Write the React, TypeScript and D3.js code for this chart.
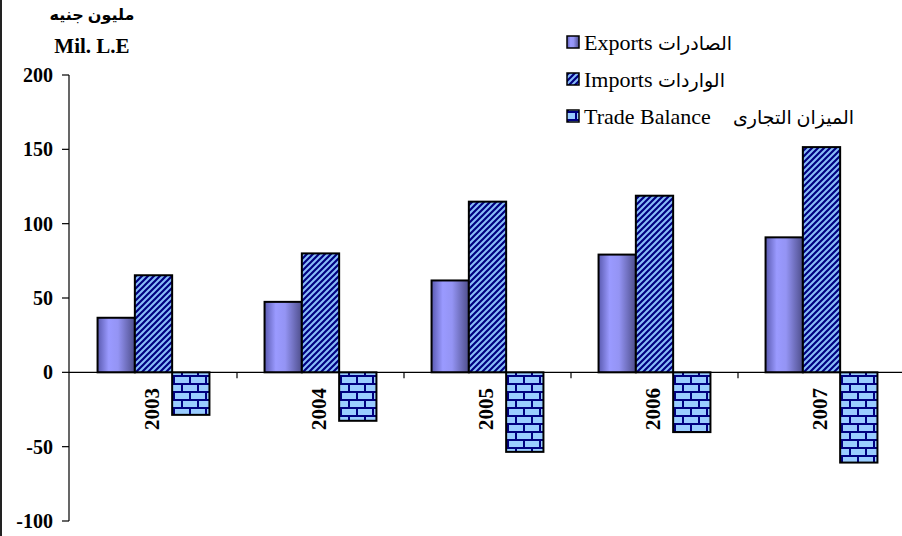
import React from 'react';
import * as d3 from 'd3';

const years = ['2003', '2004', '2005', '2006', '2007'];
const exportsVals = [36.7, 47.4, 61.8, 79.2, 90.8];
const importsVals = [65.3, 80.0, 114.8, 118.8, 151.5];
const balanceVals = [-28.6, -32.6, -53.5, -40.2, -60.7];
const seriesKeys = ['exports', 'imports', 'balance'];
const seriesEn = ['Exports ', 'Imports ', 'Trade Balance    '];
const seriesAr = ['الصادرات', 'الواردات', 'الميزان التجارى'];
const seriesFills = ['url(#gradExports)', 'url(#patImports)', 'url(#patBricks)'];
const yTicks = [-100, -50, 0, 50, 100, 150, 200];
const titleAr = 'مليون جنيه';
const titleEn = 'Mil. L.E';

const W = 902;
const H = 536;
const FONT = "'Liberation Serif', 'Times New Roman', 'DejaVu Sans', serif";

export default function App() {
  const x = d3.scaleBand<string>().domain(years).range([70, 905]).paddingInner(0).paddingOuter(0);
  const bw = x.bandwidth();
  const inner = d3.scaleBand<string>().domain(seriesKeys).range([bw * 0.165, bw * 0.835]).padding(0);
  const y = d3.scaleLinear().domain([-100, 200]).range([521, 75]);
  const values: Record<string, number[]> = { exports: exportsVals, imports: importsVals, balance: balanceVals };
  const y0 = y(0);

  return (
    <svg width={W} height={H} style={{ position: 'absolute', left: 0, top: 0, background: '#fff' }} fontFamily={FONT}>
      <defs>
        <linearGradient id="gradExports" x1="0" x2="1" y1="0" y2="0">
          <stop offset="0" stopColor="#5a5ab0" />
          <stop offset="0.3" stopColor="#9a9aff" />
          <stop offset="0.55" stopColor="#9494f4" />
          <stop offset="1" stopColor="#4e4e8c" />
        </linearGradient>
        <pattern id="patImports" patternUnits="userSpaceOnUse" width={6} height={6}>
          <rect width={6} height={6} fill="#88bdf8" />
          <path d="M-1,1 L1,-1 M0,6 L6,0 M5,7 L7,5" stroke="#000080" strokeWidth={2.2} />
        </pattern>
        <pattern id="patBricks" patternUnits="userSpaceOnUse" width={16} height={16}>
          <rect width={16} height={16} fill="#000080" />
          <rect x={1} y={1} width={14} height={6} fill="#99ccff" />
          <rect x={-7} y={9} width={14} height={6} fill="#99ccff" />
          <rect x={9} y={9} width={14} height={6} fill="#99ccff" />
        </pattern>
      </defs>
      <rect width={W} height={H} fill="#fff" />
      <line x1={1} x2={1} y1={0} y2={H} stroke="#222" strokeWidth={2} />

      {/* title */}
      <text x={92} y={20} textAnchor="middle" fontWeight="bold" fontSize={16}>{titleAr}</text>
      <text x={92} y={53} textAnchor="middle" fontWeight="bold" fontSize={21}>{titleEn}</text>

      {/* y axis */}
      <line x1={69} x2={69} y1={y(200)} y2={y(-100)} stroke="#000" strokeWidth={1.2} />
      {yTicks.map(t => (
        <g key={t}>
          <line x1={62} x2={69} y1={y(t)} y2={y(t)} stroke="#000" strokeWidth={1.2} />
          <text x={53} y={y(t)} dy="0.35em" textAnchor="end" fontWeight="bold" fontSize={20}>{t}</text>
        </g>
      ))}

      {/* bars */}
      {years.map((yr, i) => (
        <g key={yr} transform={`translate(${x(yr)},0)`}>
          {seriesKeys.map((k, si) => {
            const v = values[k][i];
            const top = Math.min(y(v), y0);
            const h = Math.abs(y(v) - y0);
            return (
              <rect key={k} x={inner(k)} y={top} width={inner.bandwidth()} height={h}
                fill={seriesFills[si]} stroke="#000" strokeWidth={2} />
            );
          })}
        </g>
      ))}

      {/* x axis */}
      <line x1={69} x2={W} y1={y0} y2={y0} stroke="#000" strokeWidth={1.2} />
      {years.slice(1).map(yr => (
        <line key={yr} x1={x(yr)} x2={x(yr)} y1={y0} y2={y0 + 6} stroke="#000" strokeWidth={1.2} />
      ))}
      {years.map(yr => {
        const cx = (x(yr) as number) + bw / 2 - 2;
        const ty = 388;
        return (
          <text key={yr} transform={`translate(${cx},${ty}) rotate(-90)`} textAnchor="end" dy="0.35em"
            fontWeight="bold" fontSize={21}>{yr}</text>
        );
      })}

      {/* legend */}
      {seriesEn.map((lab, i) => {
        const cy = 42 + i * 37;
        return (
          <g key={lab}>
            <rect x={567} y={cy - 6} width={12} height={12} fill={seriesFills[i]} stroke="#000" strokeWidth={1.5} />
            <text x={584} y={cy} dy="0.35em" fontSize={22} style={{ whiteSpace: 'pre' }}>
              <tspan>{lab}</tspan>
              <tspan fontSize={19}>{seriesAr[i]}</tspan>
            </text>
          </g>
        );
      })}
    </svg>
  );
}
